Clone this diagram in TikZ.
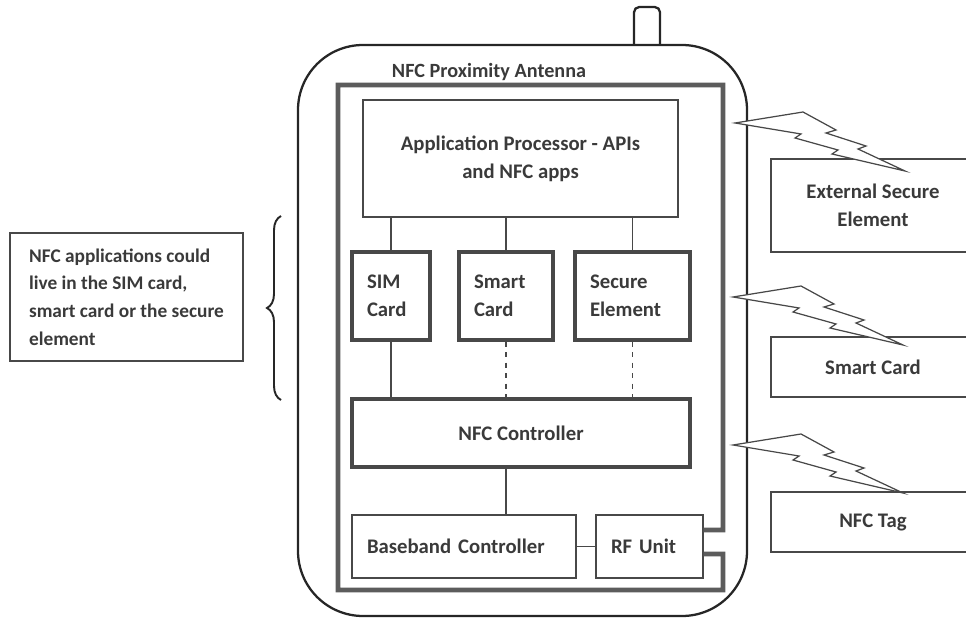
\documentclass[tikz,border=0pt]{standalone}
\usepackage{fontspec}
\setmainfont{Carlito}
\usetikzlibrary{positioning,decorations.pathreplacing}
\definecolor{ctexto}{HTML}{3A3A3A}
\definecolor{cborde}{HTML}{484848}
\definecolor{cantena}{HTML}{5C5C5C}
\tikzset{
  caja/.style={rectangle, draw=cborde, line width=0.8pt, align=center,
    inner sep=0pt, font=\fontsize{11.8}{16}\selectfont\bfseries, text=ctexto},
  cajag/.style={caja, line width=1.8pt},
  izq/.style={align=left, inner xsep=0.3cm},
  linea/.style={draw=cborde, line width=0.8pt},
  antena/.style={draw=cantena, line width=2.6pt},
  cuerpo/.style={draw=black!85, line width=1.3pt, rounded corners=1.3cm},
  rayo/.style={draw=cborde, line width=0.7pt, fill=white, line join=miter},
  llave/.style={draw=black!85, line width=1.1pt, decorate,
    decoration={brace, amplitude=0.28cm}},
  etq/.style={font=\fontsize{11.5}{14}\selectfont\bfseries, text=ctexto},
}
% rayo de enlace inalambrico (punta izquierda en #1)
\newcommand\rayo[1]{%
  \draw[rayo, shift={#1}] (0,0) -- (68,-11) -- (101,7) -- (91,10) -- (131,23)
    -- (123,26) -- (170,48) -- (97,31) -- (103,27) -- (60,15) -- (66,11) -- cycle;}

\begin{document}
\begin{tikzpicture}[x=0.02cm, y=-0.02cm]
  \useasboundingbox (0,0) rectangle (966,621);
  \clip (0,0) rectangle (966,621);

  % telefono
  \draw[cuerpo] (298,45) rectangle (747,616);
  \draw[cuerpo, rounded corners=3pt] (634,45) -- (634,7) -- (660,7) -- (660,45);
  \node[etq] (ant) at (489,72) {NFC Proximity Antenna};

  % bloques internos
  \node[caja, minimum width=6.3cm, minimum height=2.34cm] (app) at (520.5,158.5)
    {Application Processor - APIs\\and NFC apps};
  \node[cajag, izq, text width=0.96cm, minimum height=1.76cm] (sim) at (391,296)
    {SIM\\Card};
  \node[cajag, izq, text width=1.28cm, minimum height=1.76cm] (smart) at (506,296)
    {Smart\\Card};
  \node[cajag, izq, text width=1.7cm, minimum height=1.76cm] (se) at (632.5,296)
    {Secure\\Element};
  \node[cajag, minimum width=6.76cm, minimum height=1.36cm] (nfc) at (521,433)
    {NFC Controller};
  \node[caja, izq, text width=3.88cm, minimum height=1.26cm] (bb) at (464,546.5)
    {Baseband Controller};
  \node[caja, izq, text width=1.54cm, minimum height=1.26cm] (rf) at (649.5,546.5)
    {RF Unit};

  \draw[linea] (sim.north) -- (sim.north |- app.south);
  \draw[linea] (smart.north) -- (smart.north |- app.south);
  \draw[linea] (se.north) -- (se.north |- app.south);
  \draw[linea] (sim.south) -- (sim.south |- nfc.north);
  \draw[linea, dashed] (smart.south) -- (smart.south |- nfc.north);
  \draw[linea, dashed] (se.south) -- (se.south |- nfc.north);
  \draw[linea] (nfc.south -| smart.south) -- (bb.north -| smart.south);
  \draw[linea] (bb.east) -- (rf.west);

  % lazo de la antena
  \draw[antena] ([yshift=0.33cm]rf.east) -- (723,530) -- (723,85) -- (338,85)
    -- (338,590) -- (723,590) -- (723,554) -- ([yshift=-0.15cm]rf.east);

  % elementos externos
  \node[caja, minimum width=4.08cm, minimum height=1.86cm] (ext) at (873,205.5)
    {External Secure\\Element};
  \node[caja, minimum width=4.08cm, minimum height=1.2cm] (sc) at (873,367)
    {Smart Card};
  \node[caja, minimum width=4.08cm, minimum height=1.2cm] (tag) at (873,522)
    {NFC Tag};
  \rayo{(735,123)}
  \rayo{(733,297)}
  \rayo{(733,445)}

  % nota lateral
  \node[caja, align=left, minimum width=4.66cm, minimum height=2.56cm,
    font=\fontsize{11}{15.8}\selectfont\bfseries] (nota) at (126.5,297)
    {NFC applications could\\live in the SIM card,\\smart card or the secure\\element};
  \draw[llave] (281,400) -- (281,216);
\end{tikzpicture}
\end{document}
